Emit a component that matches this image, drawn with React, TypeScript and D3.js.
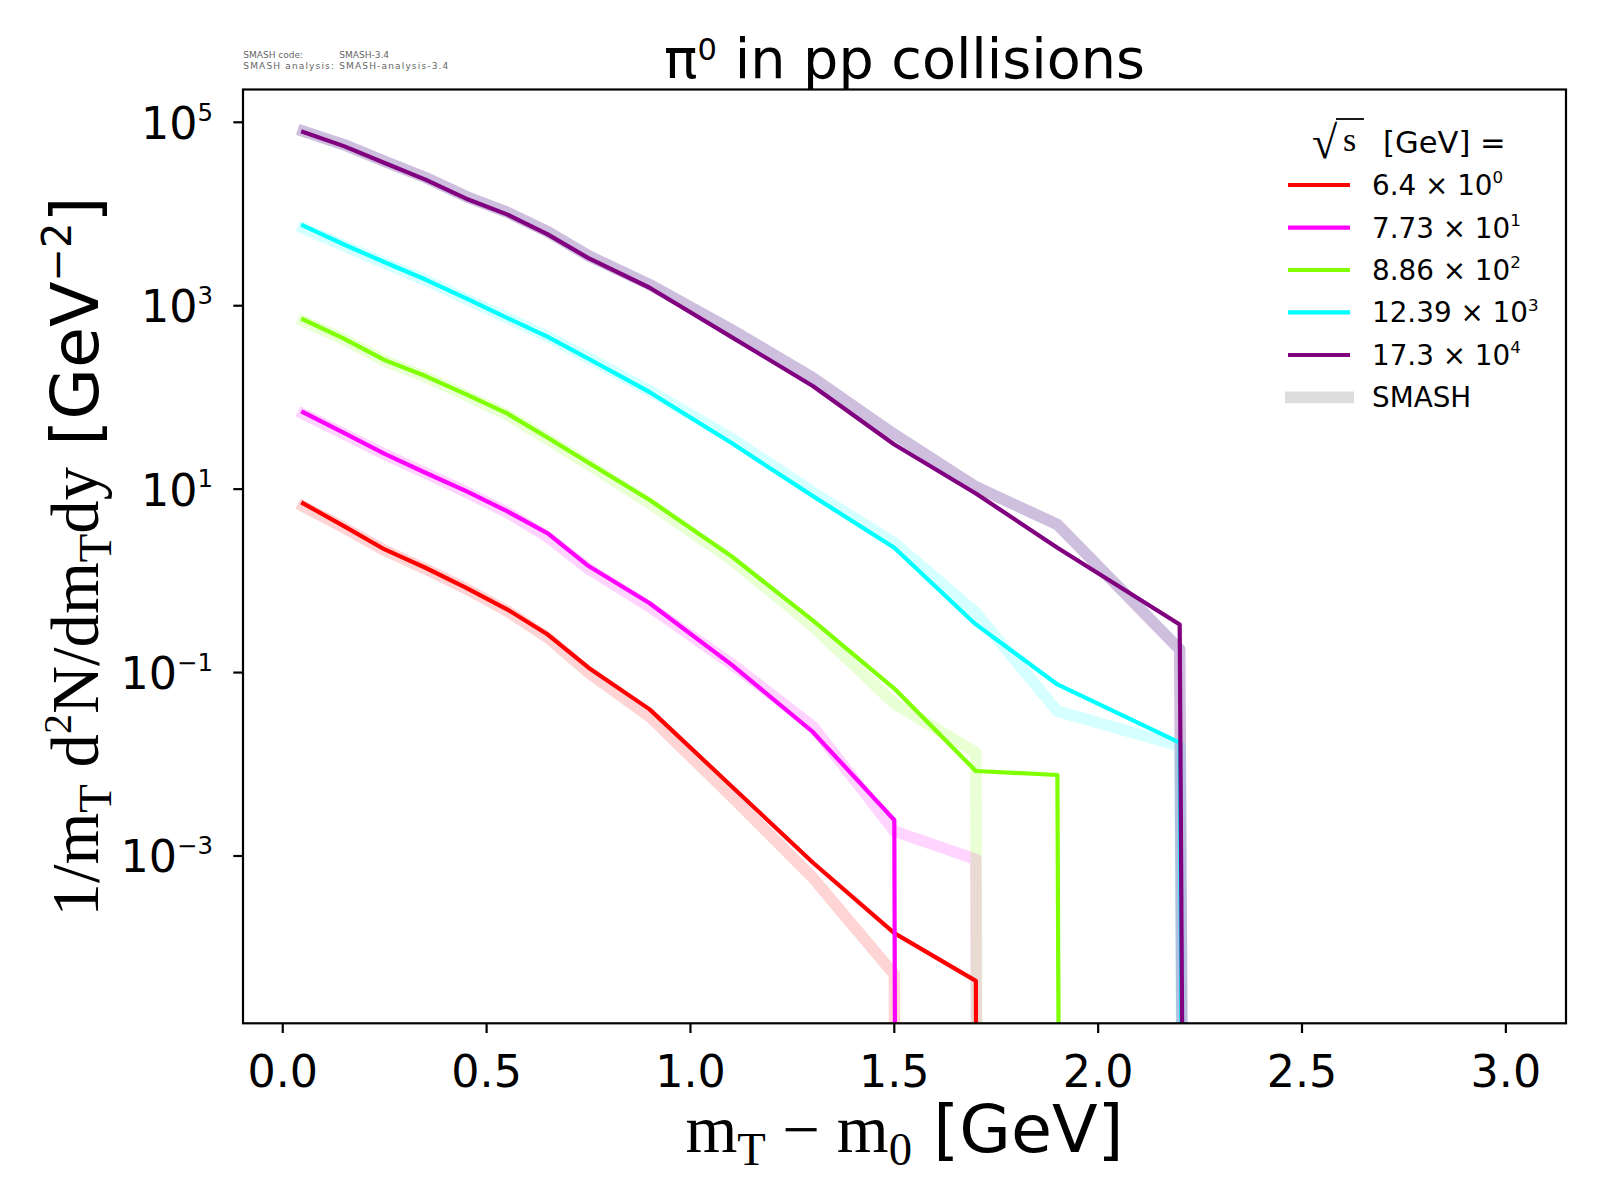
import * as d3 from 'd3';

// pi0 mT spectra in pp collisions, SMASH vs. reference curves

const W = 1600;
const H = 1200;
const plot = { left: 243, right: 1566, top: 89.5, bottom: 1023.3 };

// mT - m0 grid [GeV]
const mtGrid = [0.05, 0.15, 0.25, 0.35, 0.45, 0.55, 0.65, 0.75, 0.9, 1.1, 1.3, 1.5, 1.7, 1.9, 2.2, 2.6, 3.0];

// sqrt(s) labels and the scale factor exponent used for each curve
const energies = ['6.4', '7.73', '8.86', '12.39', '17.3'];
const scalePowers = ['0', '1', '2', '3', '4'];
const lineColors = ['#ff0000', '#ff00ff', '#7fff00', '#00ffff', '#800080'];
const bandColors = ['#ff0000', '#ff00ff', '#7fff00', '#00ffff', '#6a3d9a'];
const bandOpacity = [0.17, 0.17, 0.17, 0.16, 0.33];

// reference curves (already scaled by 10^n)
const ref64 = [7.0, 3.95, 2.2, 1.39, 0.84, 0.49, 0.26, 0.113, 0.0397, 5.8e-3, 8.5e-4, 1.44e-4, 4.35e-5, 0, 0, 0, 0];
const ref773 = [69, 41, 24.3, 15.1, 9.5, 5.75, 3.3, 1.45, 0.57, 0.123, 0.0225, 2.47e-3, 0, 0, 0, 0, 0];
const ref886 = [708, 437, 255, 171, 108, 67, 36.3, 19.4, 7.6, 1.86, 0.37, 0.067, 8.45e-3, 7.64e-3, 0, 0, 0];
const ref1239 = [7480, 4650, 2980, 1930, 1200, 738, 458, 264, 114, 32, 8.4, 2.3, 0.335, 0.0742, 0.0172, 0, 0];
const ref173 = [78500, 55000, 36000, 23700, 14700, 9900, 6000, 3300, 1570, 458, 133, 30.7, 8.97, 2.3, 0.335, 0, 0];

// SMASH results (same scaling)
const smash64 = [6.5, 3.8, 2.15, 1.35, 0.82, 0.47, 0.24, 0.1, 0.033, 4.5e-3, 5.8e-4, 5.1e-5, 0, 0, 0, 0, 0];
const smash773 = [66, 40, 24, 15, 9.3, 5.6, 3.0, 1.35, 0.52, 0.125, 0.026, 1.87e-3, 9.2e-4, 0, 0, 0, 0];
const smash886 = [680, 430, 250, 168, 105, 65, 35, 18.5, 7.0, 1.71, 0.32, 0.046, 0.0134, 0, 0, 0, 0];
const smash1239 = [7000, 4500, 2900, 1900, 1180, 740, 460, 270, 118, 36, 9.3, 2.6, 0.45, 0.038, 0.0158, 0, 0];
const smash173 = [80000, 57000, 37500, 25000, 15500, 10500, 6400, 3500, 1700, 550, 164, 39.5, 10.6, 4.12, 0.179, 0, 0];

const refSeries = [ref64, ref773, ref886, ref1239, ref173];
const smashSeries = [smash64, smash773, smash886, smash1239, smash173];

const xTicks = [0, 0.5, 1.0, 1.5, 2.0, 2.5, 3.0];
const yTickPowers = [5, 3, 1, -1, -3];

const SANS = 'DejaVu Sans, sans-serif';
const SERIF = 'Liberation Serif, DejaVu Serif, serif';
const LOG_FLOOR = 1e-300; // non-positive values are clipped like matplotlib does

type Part = { t: string; s?: 'sup' | 'sub'; f?: string };

function rich(parts: Part[], size: number, supScale = 0.58, supShift = 0.42) {
  let cur = 0;
  return parts.map((p, i) => {
    const target = p.s === 'sup' ? -supShift * size : p.s === 'sub' ? 0.2 * size : 0;
    const dy = target - cur;
    cur = target;
    const fs = p.s === 'sup' ? size * supScale : p.s === 'sub' ? size * 0.7 : size;
    return (
      <tspan key={i} dy={dy !== 0 ? dy : undefined} fontSize={fs} fontFamily={p.f}>
        {p.t}
      </tspan>
    );
  });
}

export default function App() {
  // x: data extent plus 5% margins
  const [x0, x1] = d3.extent(mtGrid) as [number, number];
  const xPad = (x1 - x0) * 0.05;
  const x = d3.scaleLinear().domain([x0 - xPad, x1 + xPad]).range([plot.left, plot.right]);

  // y: log extent of the reference curves plus 5% margins in decades
  const positives = refSeries.flat().filter(v => v > 0);
  const lo = Math.log10(d3.min(positives) as number);
  const hi = Math.log10(d3.max(positives) as number);
  const yPad = (hi - lo) * 0.05;
  const y = d3.scaleLog()
    .domain([Math.pow(10, lo - yPad), Math.pow(10, hi + yPad)])
    .range([plot.bottom, plot.top]);

  const line = d3.line<number>()
    .x((_d, i) => x(mtGrid[i]))
    .y(d => y(d > 0 ? d : LOG_FLOOR));

  const legendRows = [185, 227.7, 270, 312.3, 355, 397.3];
  const cx = (plot.left + plot.right) / 2;
  const cy = (plot.top + plot.bottom) / 2;

  return (
    <svg
      width={W}
      height={H}
      viewBox={`0 0 ${W} ${H}`}
      style={{ position: 'absolute', left: 0, top: 0, display: 'block', background: '#fff' }}
      fontFamily={SANS}
    >
      <defs>
        <clipPath id="plot-area">
          <rect x={plot.left} y={plot.top} width={plot.right - plot.left} height={plot.bottom - plot.top} />
        </clipPath>
      </defs>

      {/* version stamp */}
      <g fontSize={9} fill="#666">
        <text x={243.3} y={58.3}>SMASH code:</text>
        <text x={339.3} y={58.3}>SMASH-3.4</text>
        <text x={243.3} y={69.3} textLength={205} lengthAdjust="spacing">
          SMASH analysis: SMASH-analysis-3.4
        </text>
      </g>

      {/* title */}
      <text x={cx} y={78} textAnchor="middle" fontSize={55.6} style={{ whiteSpace: 'pre' }}>
        {rich([{ t: 'π' }, { t: '0', s: 'sup' }, { t: ' in pp collisions' }], 55.6, 0.55, 0.33)}
      </text>

      {/* curves */}
      <g clipPath="url(#plot-area)" fill="none">
        {smashSeries.map((s, i) => (
          <path
            key={`b${i}`}
            d={line(s) ?? ''}
            stroke={bandColors[i]}
            strokeOpacity={bandOpacity[i]}
            strokeWidth={11.5}
            strokeLinejoin="round"
            strokeLinecap="square"
          />
        ))}
        {refSeries.map((s, i) => (
          <path
            key={`l${i}`}
            d={line(s) ?? ''}
            stroke={lineColors[i]}
            strokeWidth={4.2}
            strokeLinejoin="round"
            strokeLinecap="square"
          />
        ))}
      </g>

      {/* frame */}
      <rect
        x={plot.left}
        y={plot.top}
        width={plot.right - plot.left}
        height={plot.bottom - plot.top}
        fill="none"
        stroke="#000"
        strokeWidth={2.2}
      />

      {/* x axis */}
      <g>
        {xTicks.map(t => (
          <g key={t}>
            <line x1={x(t)} x2={x(t)} y1={plot.bottom} y2={plot.bottom + 9.7} stroke="#000" strokeWidth={2.2} />
            <text x={x(t)} y={1087} textAnchor="middle" fontSize={44.4}>
              {t.toFixed(1)}
            </text>
          </g>
        ))}
      </g>

      {/* y axis */}
      <g>
        {yTickPowers.map(p => {
          const yy = y(Math.pow(10, p));
          const exp = p < 0 ? `\u2212${-p}` : `${p}`;
          return (
            <g key={p}>
              <line x1={plot.left - 9.7} x2={plot.left} y1={yy} y2={yy} stroke="#000" strokeWidth={2.2} />
              <text x={213} y={yy + 16.5} textAnchor="end" fontSize={44.4}>
                {rich([{ t: '10' }, { t: exp, s: 'sup' }], 44.4, 0.55, 0.41)}
              </text>
            </g>
          );
        })}
      </g>

      {/* axis labels */}
      <text x={cx} y={1152} textAnchor="middle" fontSize={66.7} style={{ whiteSpace: 'pre' }}>
        {rich(
          [
            { t: 'm', f: SERIF },
            { t: 'T', s: 'sub', f: SERIF },
            { t: ' \u2212 ', f: SERIF },
            { t: 'm', f: SERIF },
            { t: '0', s: 'sub', f: SERIF },
            { t: ' [GeV]' },
          ],
          66.7,
        )}
      </text>
      <text
        transform={`translate(98,${cy}) rotate(-90)`}
        textAnchor="middle"
        fontSize={66.7}
        style={{ whiteSpace: 'pre' }}
      >
        {rich(
          [
            { t: '1/m', f: SERIF },
            { t: 'T', s: 'sub', f: SERIF },
            { t: ' d', f: SERIF },
            { t: '2', s: 'sup', f: SERIF },
            { t: 'N/dm', f: SERIF },
            { t: 'T', s: 'sub', f: SERIF },
            { t: 'dy', f: SERIF },
            { t: ' [GeV' },
            { t: '\u22122', s: 'sup' },
            { t: ']' },
          ],
          66.7,
          0.6,
          0.4,
        )}
      </text>

      {/* legend */}
      <g>
        <text x={1312} y={158} fontSize={46} fontFamily={SERIF}>{'\u221A'}</text>
        <line x1={1336} x2={1364} y1={119} y2={119} stroke="#000" strokeWidth={1.8} />
        <text x={1343} y={151} fontSize={34} fontFamily={SERIF}>s</text>
        <text x={1383} y={153} fontSize={30.6}>[GeV] =</text>
        {energies.map((e, i) => (
          <g key={e}>
            <line
              x1={1288}
              x2={1350}
              y1={legendRows[i]}
              y2={legendRows[i]}
              stroke={lineColors[i]}
              strokeWidth={4.2}
            />
            <text x={1372} y={legendRows[i] + 10} fontSize={27.8} style={{ whiteSpace: 'pre' }}>
              {rich([{ t: `${e} \u00D7 10` }, { t: scalePowers[i], s: 'sup' }], 27.8, 0.6, 0.42)}
            </text>
          </g>
        ))}
        <line x1={1285} x2={1354} y1={legendRows[5]} y2={legendRows[5]} stroke="#dddddd" strokeWidth={11.7} />
        <text x={1372} y={legendRows[5] + 10} fontSize={27.8}>SMASH</text>
      </g>
    </svg>
  );
}
